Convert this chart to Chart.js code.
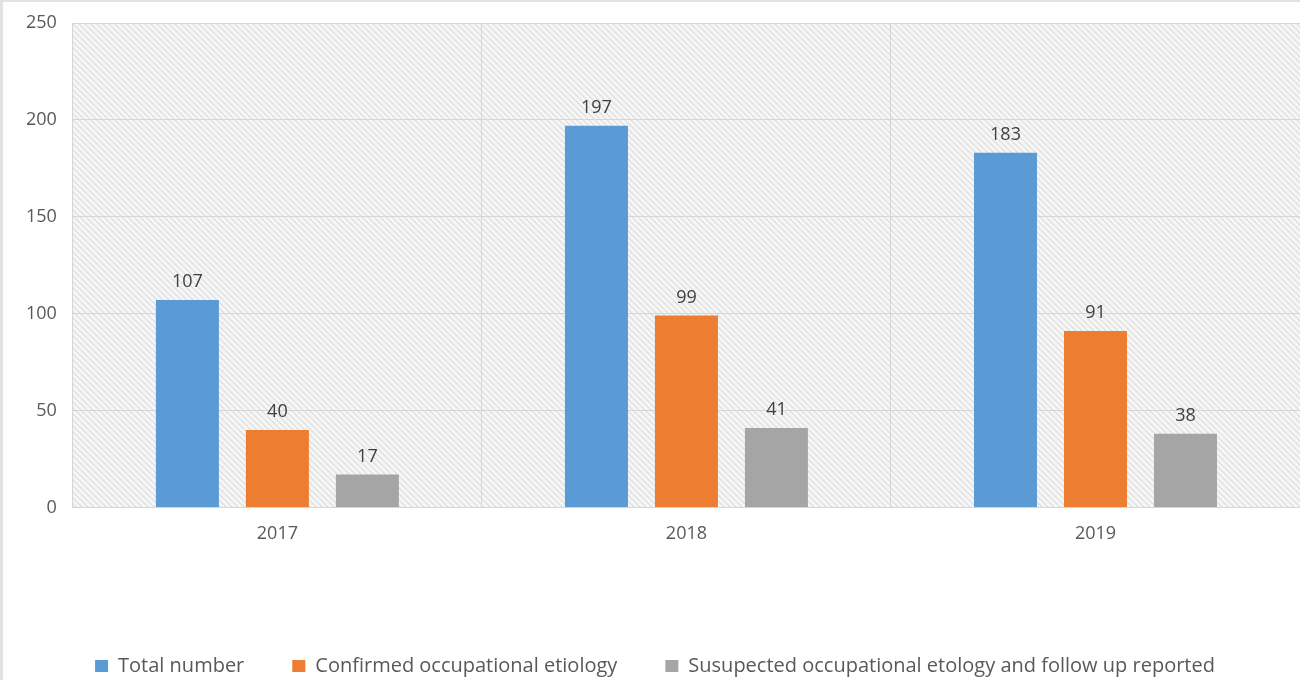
<!DOCTYPE html>
<html>
<head>
<meta charset="utf-8">
<script src="https://cdn.jsdelivr.net/npm/chart.js@4.4.1/dist/chart.umd.min.js"></script>
<style>
  html, body { margin: 0; padding: 0; background: #fff; }
  #wrap { position: relative; width: 1297px; height: 678px; border-left: 3px solid #e2e2e2; border-top: 2px solid #e2e2e2; }
</style>
</head>
<body>
<div id="wrap"><canvas id="myChart"></canvas></div>
<script>
const years = ['2017', '2018', '2019'];
const totalNumber = [107, 197, 183];
const confirmedEtiology = [40, 99, 91];
const suspectedEtiology = [17, 41, 38];
const yTicks = [0, 50, 100, 150, 200, 250];

const textColor = '#595959';
const fontFamily = "'Open Sans', 'Noto Sans', sans-serif";

// Diagonal hatch used behind the plot area
function makeHatch() {
    const c = document.createElement('canvas');
    c.width = 6; c.height = 6;
    const g = c.getContext('2d');
    g.fillStyle = '#f6f6f6';
    g.fillRect(0, 0, 6, 6);
    g.strokeStyle = '#dcdcdc';
    g.lineWidth = 1.2;
    g.beginPath();
    g.moveTo(-1, -1); g.lineTo(7, 7);
    g.moveTo(-7, -1); g.lineTo(1, 7);
    g.moveTo(5, -1); g.lineTo(13, 7);
    g.stroke();
    return g.createPattern(c, 'repeat');
}

const hatchBackground = {
    id: 'hatchBackground',
    beforeDraw(chart) {
        const { ctx, chartArea: a } = chart;
        ctx.save();
        ctx.fillStyle = makeHatch();
        ctx.fillRect(a.left, a.top, a.right - a.left, a.bottom - a.top);
        ctx.restore();
    }
};

// Value labels above each bar
const barValues = {
    id: 'barValues',
    afterDatasetsDraw(chart) {
        const ctx = chart.ctx;
        ctx.save();
        ctx.fillStyle = '#404040';
        ctx.font = "18px " + fontFamily;
        ctx.textAlign = 'center';
        ctx.textBaseline = 'bottom';
        chart.data.datasets.forEach((ds, i) => {
            chart.getDatasetMeta(i).data.forEach((bar, j) => {
                ctx.fillText(ds.data[j], bar.x, bar.y - 9);
            });
        });
        ctx.restore();
    }
};

const ctx = document.getElementById('myChart').getContext('2d');

const myChart = new Chart(ctx, {
    type: 'bar',
    data: {
        labels: years,
        datasets: [{
            label: 'Total number',
            data: totalNumber,
            backgroundColor: '#5b9bd5'
        }, {
            label: 'Confirmed occupational etiology',
            data: confirmedEtiology,
            backgroundColor: '#ed7d31'
        }, {
            label: 'Susupected occupational etology and follow up reported',
            data: suspectedEtiology,
            backgroundColor: '#a5a5a5'
        }]
    },
    options: {
        responsive: true,
        maintainAspectRatio: false,
        animation: false,
        datasets: {
            bar: {
                categoryPercentage: 0.66,
                barPercentage: 0.7
            }
        },
        layout: {
            padding: { top: 21, right: 0, left: 7, bottom: -6 }
        },
        scales: {
            x: {
                grid: {
                    offset: true,
                    color: '#d6d6d6',
                    drawTicks: false
                },
                border: { color: '#d6d6d6' },
                ticks: {
                    color: textColor,
                    font: { family: fontFamily, size: 18 },
                    padding: 16
                },
                afterFit(scale) {
                    scale.height += 47;
                }
            },
            y: {
                min: 0,
                max: 250,
                afterBuildTicks(scale) {
                    scale.ticks = yTicks.map(v => ({ value: v }));
                },
                afterFit(scale) {
                    scale.paddingTop = 0;
                },
                grid: {
                    color: '#d6d6d6',
                    drawTicks: false
                },
                border: { color: '#d6d6d6' },
                ticks: {
                    color: textColor,
                    font: { family: fontFamily, size: 18 },
                    padding: 16
                }
            }
        },
        plugins: {
            legend: {
                position: 'bottom',
                labels: {
                    color: textColor,
                    font: { family: fontFamily, size: 20 },
                    boxWidth: 13,
                    boxHeight: 12,
                    padding: 48
                }
            },
            tooltip: { enabled: false }
        }
    },
    plugins: [hatchBackground, barValues]
});
</script>
</body>
</html>
